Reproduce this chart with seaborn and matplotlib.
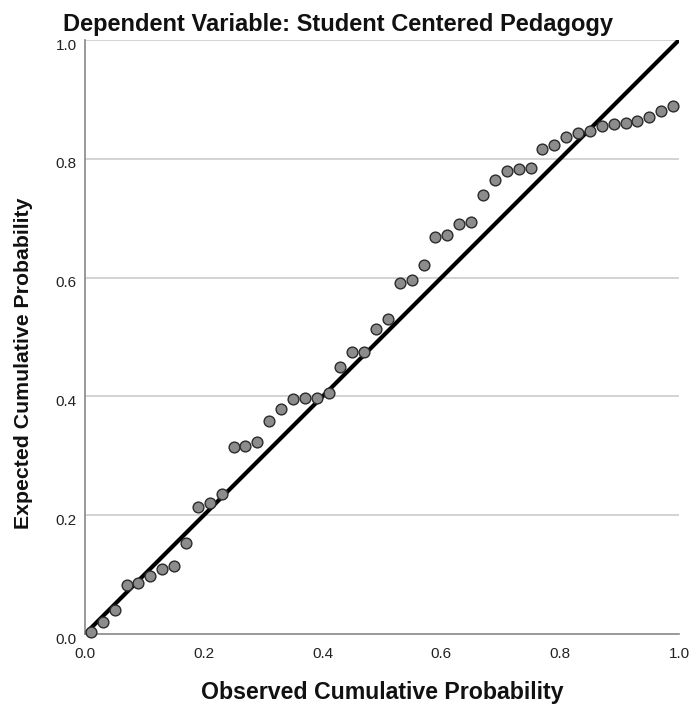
import matplotlib
matplotlib.use("Agg")
import matplotlib.pyplot as plt
import matplotlib.transforms as mtransforms
import seaborn as sns
import pandas as pd

observed = [0.01, 0.03, 0.05, 0.07, 0.09, 0.11, 0.13, 0.15, 0.17, 0.19,
            0.21, 0.23, 0.25, 0.27, 0.29, 0.31, 0.33, 0.35, 0.37, 0.39,
            0.41, 0.43, 0.45, 0.47, 0.49, 0.51, 0.53, 0.55, 0.57, 0.59,
            0.61, 0.63, 0.65, 0.67, 0.69, 0.71, 0.73, 0.75, 0.77, 0.79,
            0.81, 0.83, 0.85, 0.87, 0.89, 0.91, 0.93, 0.95, 0.97, 0.99]
expected = [0.003, 0.020, 0.040, 0.082, 0.086, 0.098, 0.109, 0.114, 0.154, 0.213,
            0.221, 0.236, 0.314, 0.317, 0.323, 0.358, 0.378, 0.395, 0.397, 0.398,
            0.405, 0.450, 0.474, 0.475, 0.514, 0.530, 0.591, 0.596, 0.621, 0.669,
            0.671, 0.690, 0.694, 0.739, 0.765, 0.779, 0.783, 0.785, 0.816, 0.824,
            0.837, 0.843, 0.847, 0.855, 0.858, 0.860, 0.863, 0.870, 0.870, 0.880,
            ]
expected = expected[:47] + [0.870, 0.880, 0.889]
ref_line = [0.0, 1.0]
ticks = [0.0, 0.2, 0.4, 0.6, 0.8, 1.0]
tick_labels = ["0.0", "0.2", "0.4", "0.6", "0.8", "1.0"]

title = "Dependent Variable: Student Centered Pedagogy"
xlabel = "Observed Cumulative Probability"
ylabel = "Expected Cumulative Probability"

sns.set_style("white")
plt.rcParams['font.family'] = ['Liberation Sans', 'DejaVu Sans']

df = pd.DataFrame({"obs": observed, "exp": expected})
line_df = pd.DataFrame({"x": ref_line, "y": ref_line})

W, H = 693, 707
fig = plt.figure(figsize=(W / 100, H / 100), dpi=100)
ax = fig.add_axes([85 / W, 1 - 634 / H, 594 / W, 594 / H])

for t in ticks[1:]:
    ax.axhline(t, color="#cccccc", lw=1.2, zorder=0)

sns.lineplot(data=line_df, x="x", y="y", ax=ax, color="black", lw=3, zorder=2)
sns.scatterplot(data=df, x="obs", y="exp", ax=ax, s=60, color="#8c8c8c",
                edgecolor="#2b2b2b", linewidth=1.0, zorder=3, clip_on=False)

ax.set_xlim(0, 1)
ax.set_ylim(0, 1)
ax.set_xticks(ticks)
ax.set_yticks(ticks)
ax.set_xticklabels(tick_labels, fontsize=11, color="#222222")
ax.set_yticklabels(tick_labels, fontsize=11, color="#222222")
ax.tick_params(axis="both", length=0)
ax.tick_params(axis="x", pad=9)
ax.tick_params(axis="y", pad=6)

offset = mtransforms.ScaledTranslation(0, -4 / 100, fig.dpi_scale_trans)
for lab in ax.get_yticklabels():
    lab.set_transform(lab.get_transform() + offset)

for s in ["top", "right"]:
    ax.spines[s].set_visible(False)
for s in ["left", "bottom"]:
    ax.spines[s].set_color("#888888")
    ax.spines[s].set_linewidth(1.2)

ax.set_xlabel("")
ax.set_ylabel("")

fig.text(63 / W, 1 - 24 / H, title, fontsize=17, fontweight="bold",
         ha="left", va="center", color="#111111")
fig.text(382 / W, 1 - 693 / H, xlabel, fontsize=16.7, fontweight="bold",
         ha="center", va="center", color="#111111")
fig.text(24 / W, 1 - 363 / H, ylabel, fontsize=15.3, fontweight="bold",
         ha="center", va="center", rotation=90, color="#111111")

fig.savefig("out.png", dpi=100)
